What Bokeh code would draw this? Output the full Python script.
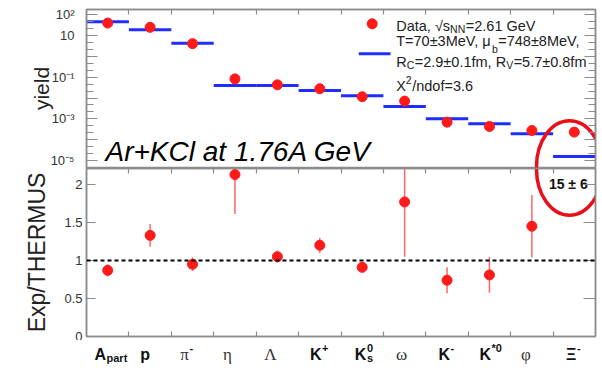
import math
from bokeh.plotting import figure
from bokeh.models import (Range1d, FixedTicker, CustomJSTickFormatter, LinearAxis,
                          LogAxis, Span, ColumnDataSource)
from bokeh.layouts import column
from bokeh.embed import file_html
from bokeh.resources import INLINE
from bokeh.core.properties import value

# ------------------------------------------------------------------ data
categories = ["A_part", "p", "pi-", "eta", "Lambda", "K+", "K0s", "omega", "K-", "K*0", "phi", "Xi-"]
data_yield = [40, 25, 4.1, 0.083, 0.043, 0.028, 0.0115, 0.0071, 0.00069, 0.00043, 0.000275, 0.00023]
model_yield = [46, 19, 4.35, 0.040, 0.040, 0.0232, 0.0127, 0.0039, 0.00100, 0.00058, 0.00019, 0.0000155]
ratio = [0.87, 1.33, 0.95, 2.13, 1.05, 1.20, 0.91, 1.77, 0.74, 0.81, 1.45]
ratio_err = [0.08, 0.15, 0.09, 0.52, 0.08, 0.10, 0.05, 0.72, 0.17, 0.235, 0.41]
xi_ratio_label = "15 ± 6"

label_main = ["A", "p", "π", "η", "Λ", "K", "K", "ω", "K", "K", "φ", "Ξ"]
label_sup = ["", "", "-", "", "", "+", "0", "", "-", "*0", "", "-"]
label_sub = ["part", "", "", "", "", "", "s", "", "", "", "", ""]
label_greek = [False, False, True, True, True, False, False, True, False, False, True, False]

yield_tick_labels = ["10⁻⁵", "", "10⁻³", "", "10⁻¹", "", "10", "10²"]
ratio_ticks = [0, 0.5, 1, 1.5, 2]

legend_rows = [
    [("Data, √s", 0), ("NN", 1), ("=2.61 GeV", 0)],
    [("T=70±3MeV, μ", 0), ("b", 2), ("=748±8MeV,", 0)],
    [("R", 0), ("C", 1), ("=2.9±0.1fm, R", 0), ("V", 1), ("=5.7±0.8fm", 0)],
    [("X", 0), ("2", -1), ("/ndof=3.6", 0)],
]
title_text = "Ar+KCl at 1.76A GeV"

# ------------------------------------------------------------------ style
GRAY = "#8c8c8c"
RED = "#ff1a1a"
ERR = "#ff6666"
BLUE = "#1f2dff"
TXT = "#222222"
FONT = "Liberation Sans"
BL = 86
BR = 7
FRAME_W = 509
W = BL + FRAME_W + BR

N = len(categories)
PX = FRAME_W / N          # pixels per category (for annotation placement)
centers = [i + 0.5 for i in range(N)]
bounds = list(range(1, N))
label_nudge = [-1.7, -5, -3.6, -7.5, -7, 1.7, 4.2, -3, 2.9, 1.5, -6, 2.1]

ARIAL_W = {'D': 722, 'a': 556, 't': 278, ',': 278, ' ': 278, '√': 549, 's': 500, 'N': 722,
           '=': 584, '.': 278, 'G': 778, 'e': 556, 'V': 667, 'T': 611, '±': 549, 'M': 833,
           'μ': 576, 'b': 556, 'R': 722, 'C': 722, 'f': 278, 'm': 833, 'X': 667, '/': 278,
           'n': 556, 'd': 556, 'o': 556}


def tw(s, size):
    return sum(ARIAL_W.get(c, 556) for c in s) * size / 1000.0


def px_to_x(px):
    return (px - BL) / PX


def py_to_log(py):
    # top panel: 10^2 sits at page y 14.3, 20.81 px per decade
    return 10 ** (2 - (py - 14.3) / 20.81)


def style_axis(ax):
    ax.axis_line_color = GRAY
    ax.axis_line_width = 1.5
    ax.major_tick_line_color = GRAY
    ax.minor_tick_line_color = GRAY
    ax.major_tick_line_width = 1.2
    ax.minor_tick_line_width = 1.2
    ax.major_tick_out = 0
    ax.minor_tick_out = 0
    ax.major_label_text_font = FONT
    ax.major_label_text_color = "#333333"


def blank_axis(ax):
    ax.formatter = CustomJSTickFormatter(code="return '';")
    ax.major_label_text_font_size = "0px"
    ax.major_label_standoff = 0


# ------------------------------------------------------------------ top panel
p1 = figure(width=W, height=168, x_range=Range1d(0, N),
            y_range=Range1d(10 ** -5.34, 10 ** 2.255), y_axis_type="log",
            x_axis_type=None, output_backend="svg", toolbar_location=None,
            min_border_left=BL, min_border_right=BR, min_border_top=9, min_border_bottom=1,
            outline_line_color=GRAY, outline_line_width=1.5,
            background_fill_color="white", border_fill_color="white")
p1.ygrid.visible = False

log_ticker = FixedTicker(ticks=[10.0 ** k for k in range(-5, 3)],
                         minor_ticks=[10.0 ** (k + f) for k in range(-6, 3) for f in (1 / 3, 2 / 3)])
ly = p1.yaxis[0]
ly.ticker = log_ticker
ly.formatter = CustomJSTickFormatter(args=dict(labs=yield_tick_labels), code="""
const e = Math.round(Math.log10(tick));
const s = labs[e + 5];
return (s === undefined) ? '' : s;
""")
style_axis(ly)
ly.major_tick_in = 11
ly.minor_tick_in = 7
ly.major_label_standoff = 12
ly.major_label_text_font_size = "13px"
ly.axis_label = "yield"
ly.axis_label_text_font = FONT
ly.axis_label_text_font_style = "normal"
ly.axis_label_text_font_size = "21px"
ly.axis_label_text_color = TXT
ly.axis_label_standoff = -5

ry = LogAxis(ticker=log_ticker)
style_axis(ry)
blank_axis(ry)
ry.major_tick_in = 11
ry.minor_tick_in = 7
p1.add_layout(ry, "right")

tx = LinearAxis(ticker=FixedTicker(ticks=bounds))
style_axis(tx)
blank_axis(tx)
tx.major_tick_in = 5
tx.minor_tick_in = 0
p1.add_layout(tx, "above")

p1.segment(x0=[c - 0.5 for c in centers], x1=[c + 0.5 for c in centers],
           y0=model_yield, y1=model_yield, line_color=BLUE, line_width=3)
p1.scatter(centers, data_yield, size=10, color=RED)

# legend
leg_x = px_to_x(395.7)
leg_y = py_to_log(25.0)
row_dy = [0, 15, 36.7, 60]
LEG_SIZE = 14.5
SUB_SIZE = 10.5
kind_dy = {0: 0, 1: 3, 2: 8, -1: -6}
lx, ly_, lt, lxo, lyo, lsz = [], [], [], [], [], []
for r, row in enumerate(legend_rows):
    dx = 0.0
    for txt, kind in row:
        size = LEG_SIZE if kind == 0 else SUB_SIZE
        lx.append(leg_x)
        ly_.append(leg_y)
        lt.append(txt)
        lxo.append(dx)
        lyo.append(row_dy[r] + kind_dy[kind])
        lsz.append("%.1fpx" % size)
        dx += tw(txt, size) + (0.5 if kind != 0 else 0)
leg_src = ColumnDataSource(dict(x=lx, y=ly_, text=lt, xo=lxo, yo=lyo, sz=lsz))
p1.text(x="x", y="y", text="text", x_offset="xo", y_offset="yo", text_font_size="sz",
        source=leg_src, text_font=value(FONT), text_color=TXT, text_align="left",
        text_baseline="alphabetic")
p1.scatter([px_to_x(371.7)], [py_to_log(23.3)], size=10, color=RED)
p1.segment(x0=[px_to_x(358.3)], x1=[px_to_x(390)],
           y0=[py_to_log(53.3)], y1=[py_to_log(53.3)],
           line_color=BLUE, line_width=3)

p1.text(x=[px_to_x(105)], y=[py_to_log(151.5)], text=[title_text],
        text_font=value(FONT), text_font_style="italic", text_font_size="28px",
        text_color="black", text_align="left", text_baseline="alphabetic")

ELL_X = px_to_x(569)
p1.ellipse(x=[ELL_X], y=[10 ** -5.3], width=66, height=92, width_units="screen",
           height_units="screen", fill_color=None, line_color="#e8101a", line_width=3.5)

# ------------------------------------------------------------------ ratio panel
p2 = figure(width=W, height=172, x_range=p1.x_range, y_range=Range1d(0, 2.21),
            x_axis_type=None, output_backend="svg", toolbar_location=None,
            min_border_left=BL, min_border_right=BR, min_border_top=0, min_border_bottom=4,
            outline_line_color=GRAY, outline_line_width=1.5,
            background_fill_color="white", border_fill_color="white")
p2.ygrid.visible = False
lin_ticker = FixedTicker(ticks=ratio_ticks, minor_ticks=[])
ay = p2.yaxis[0]
ay.ticker = lin_ticker
ay.formatter = CustomJSTickFormatter(code="return String(tick);")
style_axis(ay)
ay.major_tick_in = 9
ay.minor_tick_in = 0
ay.major_label_standoff = 4
ay.major_label_text_font_size = "13px"
ay.axis_label = "Exp/THERMUS"
ay.axis_label_text_font = FONT
ay.axis_label_text_font_style = "normal"
ay.axis_label_text_font_size = "23px"
ay.axis_label_text_color = TXT
ay.axis_label_standoff = 11

ry2 = LinearAxis(ticker=lin_ticker)
style_axis(ry2)
blank_axis(ry2)
ry2.major_tick_in = 12
ry2.minor_tick_in = 0
p2.add_layout(ry2, "right")

for loc in ("above", "below"):
    bx = LinearAxis(ticker=FixedTicker(ticks=bounds))
    style_axis(bx)
    blank_axis(bx)
    bx.major_tick_in = 5
    bx.minor_tick_in = 0
    p2.add_layout(bx, loc)

p2.add_layout(Span(location=1, dimension="width", line_color="black", line_width=2,
                   line_dash="4 3"))
rc = centers[:len(ratio)]
p2.segment(x0=rc, x1=rc, y0=[r - e for r, e in zip(ratio, ratio_err)],
           y1=[r + e for r, e in zip(ratio, ratio_err)], line_color=ERR, line_width=1.5)
p2.scatter(rc, ratio, size=10, color=RED)
p2.text(x=[centers[-1]], y=[2.0], text=[xi_ratio_label], x_offset=-6,
        text_font=value(FONT), text_font_style="bold", text_font_size="14px",
        text_color="#111111", text_align="center", text_baseline="middle")
p2.ellipse(x=[ELL_X], y=[2.2], width=66, height=92, width_units="screen",
           height_units="screen", fill_color=None, line_color="#e8101a", line_width=3.5)

# ------------------------------------------------------------------ category labels
p3 = figure(width=W, height=34, x_range=p1.x_range, y_range=Range1d(0, 34),
            x_axis_type=None, y_axis_type=None, output_backend="svg", toolbar_location=None,
            min_border_left=BL, min_border_right=BR, min_border_top=0, min_border_bottom=0,
            outline_line_color=None, background_fill_color="white", border_fill_color="white")
cx, ct, cal, cfont, cstyle, csize, ccol, cxo, cyo = [], [], [], [], [], [], [], [], []
BASE = 20.5
for i in range(N):
    greek = label_greek[i]
    has_script = bool(label_sup[i] or label_sub[i])
    cx.append(centers[i]); ct.append(label_main[i])
    cal.append("right" if has_script else "center")
    cfont.append("Liberation Serif" if greek else FONT)
    cstyle.append("normal" if greek else "bold")
    csize.append("17px" if greek else "16px")
    ccol.append("#333333" if greek else "#111111")
    cxo.append(label_nudge[i]); cyo.append(0)
    if label_sup[i]:
        cx.append(centers[i]); ct.append(label_sup[i]); cal.append("left")
        cfont.append(FONT); cstyle.append("bold"); csize.append("11px")
        ccol.append("#111111"); cxo.append(label_nudge[i] + 0.5); cyo.append(-6.5)
    if label_sub[i]:
        cx.append(centers[i]); ct.append(label_sub[i]); cal.append("left")
        cfont.append(FONT); cstyle.append("bold"); csize.append("11px")
        ccol.append("#111111"); cxo.append(label_nudge[i] + 0.5); cyo.append(4)
lab_src = ColumnDataSource(dict(x=cx, y=[BASE] * len(cx), text=ct, align=cal, font=cfont,
                                style=cstyle, size=csize, color=ccol, xo=cxo, yo=cyo))
p3.text(x="x", y="y", text="text", text_align="align", text_font="font",
        text_font_style="style", text_font_size="size", text_color="color",
        x_offset="xo", y_offset="yo", text_baseline="alphabetic", source=lab_src)

layout = column(p1, p2, p3)
open("out.html", "w").write(file_html(layout, INLINE))
